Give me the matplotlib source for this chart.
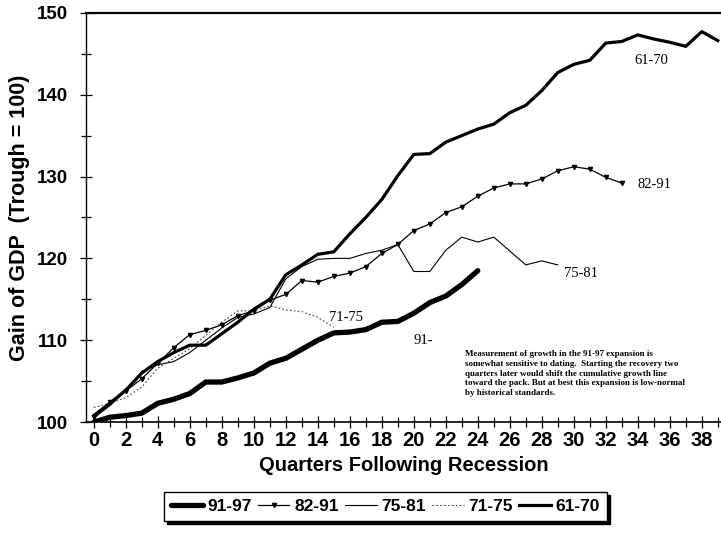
import matplotlib.pyplot as plt
from matplotlib.ticker import MultipleLocator

# GDP index (trough = 100) by quarter after each recession
q_9197 = list(range(0, 25))
v_9197 = [100.0, 100.6, 100.8, 101.1, 102.3, 102.8, 103.5, 104.9, 104.9, 105.4,
          106.0, 107.2, 107.8, 108.9, 110.0, 110.9, 111.0, 111.3, 112.2, 112.3,
          113.3, 114.6, 115.4, 116.8, 118.5]

q_8291 = list(range(0, 34))
v_8291 = [100.6, 102.4, 103.8, 105.3, 107.2, 109.1, 110.7, 111.2, 111.9, 113.0,
          113.6, 114.9, 115.6, 117.3, 117.1, 117.8, 118.2, 119.0, 120.6, 121.7,
          123.4, 124.2, 125.6, 126.3, 127.6, 128.6, 129.1, 129.1, 129.7, 130.7,
          131.2, 130.9, 129.9, 129.2]

q_7581 = list(range(0, 30))
v_7581 = [100.5, 102.0, 103.8, 106.2, 107.0, 107.4, 108.5, 110.0, 111.5, 112.8,
          113.2, 114.0, 117.5, 119.0, 119.9, 120.0, 120.0, 120.6, 121.0, 121.7,
          118.4, 118.4, 121.0, 122.6, 122.0, 122.6, 120.9, 119.2, 119.7, 119.2]

q_7175 = list(range(0, 16))
v_7175 = [101.8, 102.3, 103.0, 104.3, 106.6, 107.8, 109.0, 110.6, 112.2, 113.6,
          113.6, 114.2, 113.7, 113.5, 112.8, 111.6]

q_6170 = list(range(0, 40))
v_6170 = [100.8, 102.3, 103.9, 106.0, 107.4, 108.5, 109.4, 109.4, 110.8, 112.2,
          113.8, 115.0, 118.0, 119.2, 120.5, 120.8, 123.0, 125.0, 127.2, 130.1,
          132.7, 132.8, 134.2, 135.0, 135.8, 136.4, 137.8, 138.7, 140.5, 142.7,
          143.7, 144.2, 146.3, 146.5, 147.3, 146.8, 146.4, 145.9, 147.7, 146.6]

note = ("Measurement of growth in the 91-97 expansion is\n"
        "somewhat sensitive to dating.  Starting the recovery two\n"
        "quarters later would shift the cumulative growth line\n"
        "toward the pack. But at best this expansion is low-normal\n"
        "by historical standards.")

sans = ['Liberation Sans', 'DejaVu Sans']
serif = ['Liberation Serif', 'DejaVu Serif']

fig = plt.figure(figsize=(7.21, 5.33), dpi=100)
ax = fig.add_axes([0.119, 0.208, 0.881, 0.768])

ax.plot(q_9197, v_9197, color='black', lw=3.8, solid_capstyle='round', label='91-97')
ax.plot(q_8291, v_8291, color='black', lw=0.9, marker='v', ms=3, label='82-91')
ax.plot(q_7581, v_7581, color='black', lw=0.8, label='75-81')
ax.plot(q_7175, v_7175, color='#444444', lw=0.8, ls=(0, (1.5, 2)), label='71-75')
ax.plot(q_6170, v_6170, color='black', lw=2.3, label='61-70')

# Series labels
ax.text(33.8, 143.7, '61-70', family=serif, fontsize=10.5)
ax.text(34.0, 128.6, '82-91', family=serif, fontsize=10.5)
ax.text(29.4, 117.7, '75-81', family=serif, fontsize=10.5)
ax.text(14.7, 112.4, '71-75', family=serif, fontsize=10.5)
ax.text(20.0, 109.6, '91-', family=serif, fontsize=10.5)
ax.text(23.2, 108.8, note, family=serif, fontsize=6.5, fontweight='bold',
        va='top', linespacing=1.3)

ax.set_xlim(-0.5, 39.2)
ax.set_ylim(100, 150)
ax.xaxis.set_major_locator(MultipleLocator(2))
ax.xaxis.set_minor_locator(MultipleLocator(1))
ax.yaxis.set_major_locator(MultipleLocator(10))
ax.yaxis.set_minor_locator(MultipleLocator(5))
ax.tick_params(which='both', direction='inout', width=0.9)
ax.tick_params(which='major', length=9)
ax.tick_params(which='minor', length=7)
ax.tick_params(axis='y', pad=8)
ax.tick_params(axis='x', pad=2)
for lab in ax.get_yticklabels():
    lab.set_family(sans)
    lab.set_fontsize(13.5)
    lab.set_fontweight('bold')
for lab in ax.get_xticklabels():
    lab.set_family(sans)
    lab.set_fontsize(14.5)
    lab.set_fontweight('bold')

ax.spines['right'].set_visible(False)
ax.spines['top'].set_linewidth(1.6)
ax.spines['left'].set_linewidth(1.0)
ax.spines['bottom'].set_linewidth(1.2)

ax.set_xlabel('Quarters Following Recession', family=sans, fontsize=14.5,
              fontweight='bold', labelpad=4)
ax.set_ylabel('Gain of GDP  (Trough = 100)', family=sans, fontsize=15.5,
              fontweight='bold', labelpad=5)

leg = fig.legend(loc='center', bbox_to_anchor=(0.535, 0.049), ncol=5,
                 fancybox=False, shadow={'color': 'black', 'alpha': 1},
                 edgecolor='black', framealpha=1, handlelength=1.8,
                 handletextpad=0.3, columnspacing=0.35, borderpad=0.4,
                 prop={'family': sans, 'size': 12.5, 'weight': 'bold'})
leg.get_frame().set_linewidth(1.0)

fig.savefig('out.png', dpi=100)
